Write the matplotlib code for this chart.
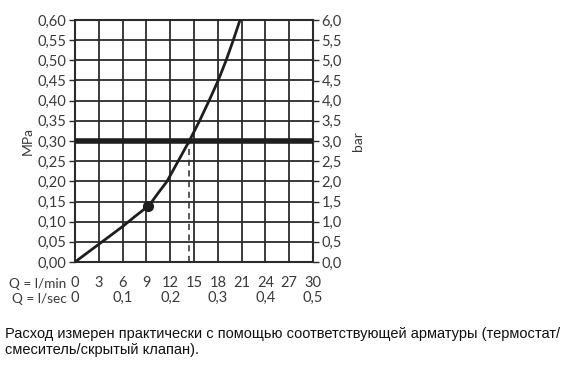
import numpy as np
import matplotlib
matplotlib.use("Agg")
import matplotlib.pyplot as plt

# flow (l/min) vs pressure (MPa)
q_lmin = [0, 1.5, 3, 4.5, 6, 7.5, 9.25, 9.7, 10.6, 11.6, 13.0, 14.4, 15.7, 16.9, 18.05, 19.05, 19.95, 20.8]
p_mpa = [0, 0.022, 0.044, 0.066, 0.088, 0.112, 0.139, 0.15, 0.174, 0.20, 0.25, 0.30, 0.35, 0.40, 0.45, 0.50, 0.55, 0.60]
dot_q, dot_p = 9.25, 0.139
ref_q, ref_p = 14.4, 0.30

x_ticks = [0, 3, 6, 9, 12, 15, 18, 21, 24, 27, 30]
sec_ticks = [0, 0.1, 0.2, 0.3, 0.4, 0.5]
mpa_ticks = [round(0.05 * i, 2) for i in range(13)]
bar_ticks = [round(0.5 * i, 1) for i in range(13)]
caption = ("Расход измерен практически с помощью соответствующей арматуры (термостат/\n"
           "смеситель/скрытый клапан).")

def comma(v, nd):
    return f"{v:.{nd}f}".replace(".", ",")

plt.rcParams['font.family'] = ['Lato', 'DejaVu Sans']
txt = '#3a3a3a'
line = '#2b2b2b'
fs = 10.5

fig = plt.figure(figsize=(5.78, 3.72), dpi=100)
ax = fig.add_axes([75/578, 1 - 262/372, 238/578, 242/372])

ax.set_xlim(0, 30)
ax.set_ylim(0, 0.6)
ax.set_xticks(x_ticks)
ax.set_xticklabels([str(v) for v in x_ticks], color=txt, fontsize=fs)
ax.set_yticks(mpa_ticks)
ax.set_yticklabels([comma(v, 2) for v in mpa_ticks], color=txt, fontsize=fs)
ax.grid(True, color=line, linewidth=1.3)
ax.tick_params(axis='x', length=0, pad=10)
ax.tick_params(axis='y', length=4, width=1, color=line, pad=2)
for s in ax.spines.values():
    s.set_color(line)
    s.set_linewidth(1.5)

# thick reference line and curve
ax.axhline(ref_p, color='#1e1e1e', linewidth=4, zorder=3)
ax.plot([ref_q, ref_q], [0, ref_p], color=line, linewidth=1.1, linestyle=(0, (4, 3)), zorder=3)
ax.plot(q_lmin, p_mpa, color='#1e1e1e', linewidth=2, zorder=4, solid_joinstyle='round')
ax.plot([dot_q], [dot_p], 'o', color='#1e1e1e', markersize=7, zorder=5)

ax.set_ylabel("MPa", color=txt, fontsize=fs - 0.5, labelpad=2.5)

# right axis in bar
ax2 = ax.twinx()
ax2.set_ylim(0, 6)
ax2.set_yticks(bar_ticks)
ax2.set_yticklabels([comma(v, 1) for v in bar_ticks], color=txt, fontsize=fs)
ax2.tick_params(axis='y', length=4, width=1, color=line, pad=2)
ax2.set_ylabel("bar", color=txt, fontsize=fs - 0.5, labelpad=7)
for s in ax2.spines.values():
    s.set_visible(False)

# second row: l/sec
sec = ax.secondary_xaxis(-0.062, functions=(lambda x: x / 60, lambda x: x * 60))
sec.set_xticks(sec_ticks)
sec.set_xticklabels([comma(v, 1) if v else "0" for v in sec_ticks], color=txt, fontsize=fs)
sec.tick_params(axis='x', length=0, pad=10)
sec.spines['bottom'].set_visible(False)

ax.annotate("Q = l/min", xy=(-0.035, -0.09), xycoords='axes fraction', ha='right', va='center',
            color=txt, fontsize=9.8)
ax.annotate("Q = l/sec", xy=(-0.035, -0.152), xycoords='axes fraction', ha='right', va='center',
            color=txt, fontsize=9.8)

fig.text(5/578, 1 - 327/372, caption, ha='left', va='top', fontsize=10.5,
         family=['Liberation Sans', 'DejaVu Sans'], color='#111111', linespacing=1.2)

fig.savefig("out.png", dpi=100, facecolor='white')
